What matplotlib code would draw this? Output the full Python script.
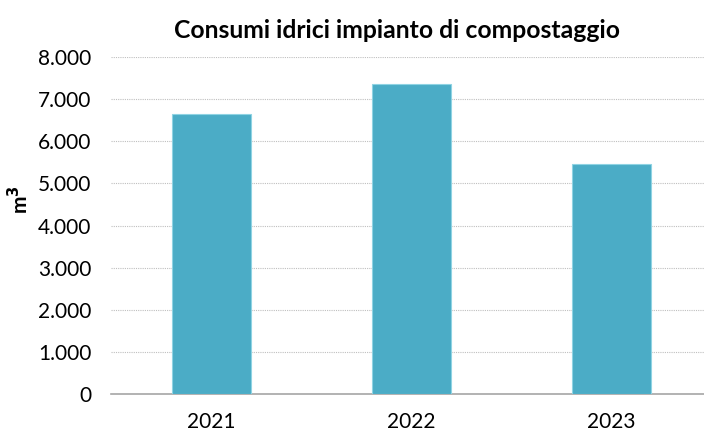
import matplotlib.pyplot as plt
from matplotlib.ticker import FuncFormatter

# Data
anni = ["2021", "2022", "2023"]
consumi = [6640, 7355, 5455]
y_ticks = [0, 1000, 2000, 3000, 4000, 5000, 6000, 7000, 8000]

plt.rcParams['font.family'] = ['Lato', 'DejaVu Sans']

fig = plt.figure(figsize=(7.04, 4.32), dpi=100)
ax = fig.add_axes([111 / 704, 1 - 394 / 432, 600 / 704, 337 / 432])

x = range(len(anni))
ax.bar(x, consumi, width=0.395, color='#4BACC6', edgecolor='#8FD3E3', linewidth=0.8, zorder=3)

ax.set_xlim(-0.5, 2.5)
ax.set_ylim(0, 8000)
ax.set_yticks(y_ticks)
ax.yaxis.set_major_formatter(FuncFormatter(lambda v, p: f"{int(v):,}".replace(",", ".")))
ax.set_xticks(list(x))
ax.set_xticklabels(anni)

ax.grid(axis='y', color='#BFBFBF', linestyle=(0, (1, 1)), linewidth=0.8, zorder=0)
for s in ['top', 'right', 'left']:
    ax.spines[s].set_visible(False)
ax.spines['bottom'].set_color('#A6A6A6')
ax.spines['bottom'].set_linewidth(1.2)
ax.tick_params(axis='both', length=0, labelsize=15, colors='black')
ax.tick_params(axis='x', pad=13)
ax.tick_params(axis='y', pad=14)

fig.text(397 / 704, 1 - 30 / 432, "Consumi idrici impianto di compostaggio",
         ha='center', va='center', fontsize=17.8, fontweight='bold')
fig.text(20 / 704, 1 - 200 / 432, "m$^\\mathbf{3}$", rotation=90,
         ha='center', va='center', fontsize=15, fontweight='bold')

fig.savefig("out.png", dpi=100)
